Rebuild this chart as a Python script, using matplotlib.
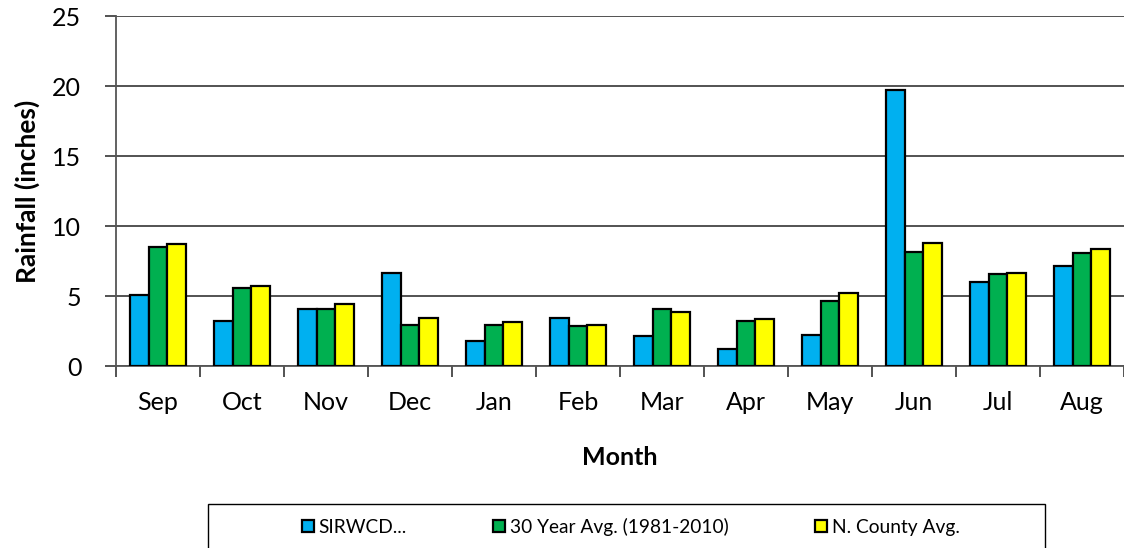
import matplotlib
matplotlib.use("Agg")
import matplotlib.pyplot as plt
import numpy as np
from matplotlib.patches import Rectangle

months = ["Sep", "Oct", "Nov", "Dec", "Jan", "Feb", "Mar", "Apr", "May", "Jun", "Jul", "Aug"]
sirwcd = [5.07, 3.2, 4.07, 6.63, 1.8, 3.45, 2.12, 1.21, 2.25, 19.7, 5.97, 7.14]
avg30 = [8.5, 5.57, 4.07, 2.9, 2.93, 2.86, 4.1, 3.21, 4.66, 8.17, 6.54, 8.06]
ncounty = [8.7, 5.7, 4.4, 3.43, 3.14, 2.93, 3.88, 3.38, 5.22, 8.77, 6.64, 8.33]
series_names = ["SIRWCD...", "30 Year Avg. (1981-2010)", "N. County Avg."]
colors = ["#00B0F0", "#00B050", "#FFFF00"]

plt.rcParams['font.family'] = ['Lato', 'DejaVu Sans']

W, H = 1124, 548
fig = plt.figure(figsize=(W / 100, H / 100), dpi=100)
ax = fig.add_axes([116 / W, (H - 366) / H, 1008 / W, 350 / H])

x = np.arange(len(months))
bw = 0.226
bars = []
for i, (vals, c, name) in enumerate(zip([sirwcd, avg30, ncounty], colors, series_names)):
    b = ax.bar(x + (i - 1) * bw, vals, bw, color=c, edgecolor="black", linewidth=1.6,
               label=name, zorder=3)
    bars.append(b)

ax.set_xlim(-0.5, len(months) - 0.5)
ax.set_ylim(0, 25)
ax.set_yticks([0, 5, 10, 15, 20, 25])
ax.yaxis.grid(True, color="#444444", linewidth=1.3, zorder=0)
ax.set_axisbelow(True)

ax.set_xticks(x)
ax.set_xticklabels(months, fontsize=18)
ax.set_xticks(np.arange(-0.5, len(months)), minor=True)
ax.tick_params(axis="x", which="major", length=0, pad=18)
ax.tick_params(axis="x", which="minor", length=8, width=1.3, color="#444444")
ax.tick_params(axis="y", length=8, width=1.3, color="#444444", labelsize=18, pad=17)

for s in ["top", "right"]:
    ax.spines[s].set_visible(False)
for s in ["left", "bottom"]:
    ax.spines[s].set_color("#555555")
    ax.spines[s].set_linewidth(1.3)

ax.set_xlabel("Month", fontsize=18, fontweight="bold", labelpad=23)
ax.set_ylabel("Rainfall (inches)", fontsize=19, fontweight="bold", labelpad=9)

# legend box
fig.patches.append(Rectangle((208 / W, -0.05), (1045 - 208) / W, 0.05 + (H - 504) / H,
                             transform=fig.transFigure, facecolor="white",
                             edgecolor="black", linewidth=1.0))
fig.legend(handles=bars, labels=series_names, loc="center",
           bbox_to_anchor=(631 / W, (H - 527) / H), ncol=3, frameon=False,
           fontsize=13.8, handlelength=0.62, handleheight=0.62, handletextpad=0.27,
           columnspacing=4.5)

fig.savefig("out.png", dpi=100)
